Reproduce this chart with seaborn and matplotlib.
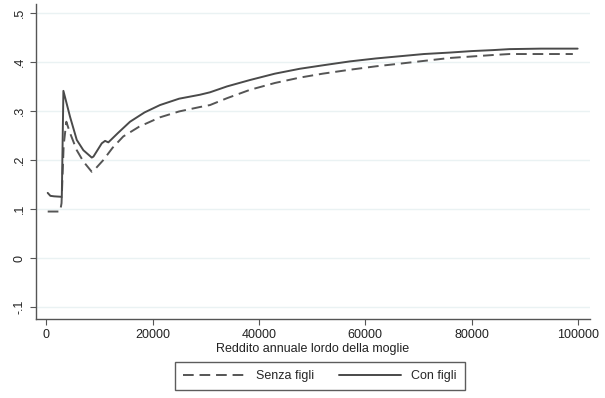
import matplotlib
matplotlib.use("Agg")
import matplotlib.pyplot as plt
import matplotlib.ticker as mticker
import numpy as np
import pandas as pd
import seaborn as sns

# Con figli (linea continua)
x_con = [300, 800, 1500, 2950, 3250, 4500, 5760, 7000, 8580, 8900, 10460, 11080, 11700,
         13500, 15770, 18500, 21400, 25000, 28900, 30800, 34000, 38300, 43000, 47700,
         52000, 57100, 62000, 67000, 71000, 75900, 80000, 84000, 87100, 93000, 99900]
y_con = [0.133, 0.127, 0.126, 0.125, 0.341, 0.288, 0.241, 0.220, 0.205, 0.207, 0.234, 0.239, 0.236,
         0.255, 0.278, 0.297, 0.312, 0.325, 0.333, 0.338, 0.350, 0.363, 0.376, 0.386,
         0.393, 0.401, 0.407, 0.412, 0.416, 0.419, 0.422, 0.424, 0.426, 0.427, 0.427]

# Senza figli (linea tratteggiata)
x_senza = [300, 1500, 2630, 2900, 3300, 3800, 4500, 5760, 7000, 8580, 9000, 10760, 12500,
           14500, 17500, 21400, 25000, 28900, 30800, 34000, 38300, 43000, 47700, 52000,
           57100, 62000, 67000, 71000, 75900, 80000, 84000, 87100, 93000, 99000]
y_senza = [0.095, 0.095, 0.095, 0.112, 0.230, 0.278, 0.255, 0.220, 0.197, 0.176, 0.179, 0.200, 0.225,
           0.248, 0.268, 0.287, 0.299, 0.308, 0.312, 0.326, 0.343, 0.357, 0.368, 0.376,
           0.384, 0.391, 0.397, 0.402, 0.408, 0.411, 0.414, 0.416, 0.416, 0.416]

y_ticks = [-0.1, 0, 0.1, 0.2, 0.3, 0.4, 0.5]
x_ticks = [0, 20000, 40000, 60000, 80000, 100000]

sns.set_style("white")
plt.rcParams['font.family'] = ['Liberation Sans', 'DejaVu Sans']

fig = plt.figure(figsize=(6.05, 3.98), dpi=100)
ax = fig.add_axes([0.0595, 0.1985, 0.9155, 0.7915])

for y in y_ticks:
    ax.axhline(y, color='#eaf2f3', lw=1.0, zorder=0)

sns.lineplot(x=x_senza, y=y_senza, ax=ax, color='#555555', lw=1.4,
             linestyle=(0, (5.5, 3)), label='Senza figli', sort=False)
sns.lineplot(x=x_con, y=y_con, ax=ax, color='#4a4a4a', lw=1.4,
             label='Con figli', sort=False)

ax.set_xlim(-1900, 102200)
ax.set_ylim(-0.124, 0.518)
ax.set_xticks(x_ticks)
ax.set_yticks(y_ticks)
ax.xaxis.set_major_formatter(mticker.FuncFormatter(lambda v, p: f"{int(v)}"))

def fmt_y(v, p):
    if abs(v) < 1e-9:
        return "0"
    s = f"{v:.1f}"
    return s.replace("0.", ".")

ax.yaxis.set_major_formatter(mticker.FuncFormatter(fmt_y))
for lab in ax.get_yticklabels():
    lab.set_rotation(90)
    lab.set_va('center')

ax.tick_params(axis='both', labelsize=9, length=4, color='#555555', direction='out',
               left=True, bottom=True, labelcolor='#222222')
for s in ['top', 'right']:
    ax.spines[s].set_visible(False)
for s in ['left', 'bottom']:
    ax.spines[s].set_color('#555555')
    ax.spines[s].set_linewidth(1.0)

ax.set_xlabel('Reddito annuale lordo della moglie', fontsize=9, color='#222222', labelpad=1)
ax.set_ylabel('')

ax.get_legend().remove()
handles, labels = ax.get_legend_handles_labels()
leg = fig.legend(handles, labels, loc='center', bbox_to_anchor=(0.529, 0.055), ncol=2,
                 fontsize=9, frameon=True, fancybox=False, handlelength=5.0,
                 columnspacing=2.0, borderpad=0.65)
leg.get_frame().set_edgecolor('#333333')
leg.get_frame().set_linewidth(1.0)

fig.savefig('out.png', dpi=100)
